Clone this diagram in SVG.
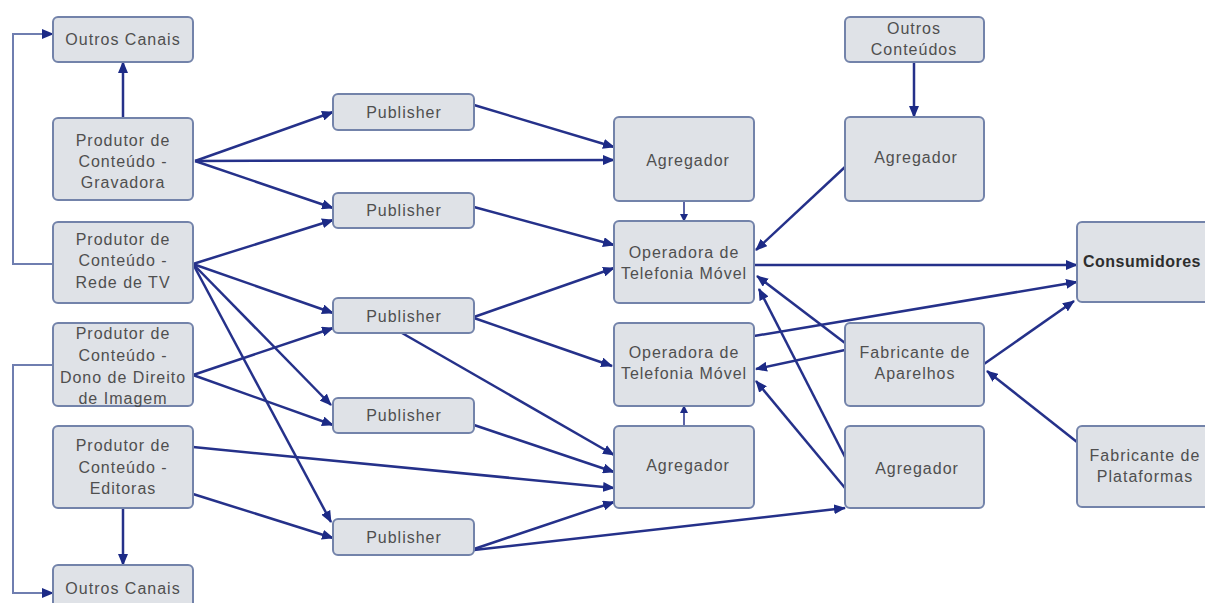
<svg xmlns="http://www.w3.org/2000/svg" width="1205" height="603" viewBox="0 0 1205 603">
  <style>
    .box { fill: #dfe2e7; stroke: #7383aa; stroke-width: 2; }
    .lbl { font-family: "Liberation Sans", Arial, sans-serif; font-size: 16px; fill: #4f4f4f; text-anchor: middle; letter-spacing: 1px; }
    .bold { font-weight: bold; fill: #2e2e2e; letter-spacing: 0.5px; }
    .edge { fill: none; stroke: #25318a; stroke-width: 2.5; marker-end: url(#ah); }
    .edge-s { fill: none; stroke: #25318a; stroke-width: 1.5; marker-end: url(#ahs); }
    .bracket { fill: none; stroke: #6f7eb0; stroke-width: 2; marker-end: url(#ah); }
  </style>
  <defs>
    <marker id="ah" viewBox="0 0 12 10" refX="11" refY="5" markerWidth="12" markerHeight="10" markerUnits="userSpaceOnUse" orient="auto">
      <path d="M0,0 L12,5 L0,10 z" fill="#1c2a86"/>
    </marker>
    <marker id="ahs" viewBox="0 0 8 8" refX="7" refY="4" markerWidth="8" markerHeight="8" markerUnits="userSpaceOnUse" orient="auto">
      <path d="M0,0 L8,4 L0,8 z" fill="#1c2a86"/>
    </marker>
  </defs>
  <rect width="1205" height="603" fill="#ffffff"/>

  <g id="connectors">
    <!-- side brackets to the "Outros Canais" boxes -->
    <path class="bracket" d="M53,264 H13 V34 H53"/>
    <path class="bracket" d="M53,365 H13 V593 H53"/>
    <!-- vertical links -->
    <path class="edge" d="M123,118 L123,62"/>
    <path class="edge" d="M123,508 L123,565"/>
    <path class="edge" d="M914,62 L914,117"/>
    <path class="edge-s" d="M684,201 L684,221"/>
    <path class="edge-s" d="M684,426 L684,406"/>
    <!-- Gravadora -->
    <path class="edge" d="M195,161 L333,112"/>
    <path class="edge" d="M195,161 L614,160"/>
    <path class="edge" d="M195,161 L333,208"/>
    <!-- Rede de TV -->
    <path class="edge" d="M193,264 L333,220"/>
    <path class="edge" d="M193,264 L333,313"/>
    <path class="edge" d="M193,264 L331,405"/>
    <path class="edge" d="M193,264 L331,522"/>
    <!-- Dono de Direito de Imagem -->
    <path class="edge" d="M193,375 L333,328"/>
    <path class="edge" d="M193,375 L333,425"/>
    <!-- Editoras -->
    <path class="edge" d="M193,447 L614,488"/>
    <path class="edge" d="M193,494 L333,538"/>
    <!-- Publishers -->
    <path class="edge" d="M474,105 L614,147"/>
    <path class="edge" d="M474,207 L614,245"/>
    <path class="edge" d="M474,317 L614,268"/>
    <path class="edge" d="M474,318 L612,366"/>
    <path class="edge" d="M402,333 L614,455"/>
    <path class="edge" d="M474,425 L614,472"/>
    <path class="edge" d="M474,549 L614,502"/>
    <path class="edge" d="M474,550 L845,508"/>
    <!-- right side -->
    <path class="edge" d="M845,167 L756,250"/>
    <path class="edge" d="M754,265 L1077,265"/>
    <path class="edge" d="M754,336 L1077,282"/>
    <path class="edge" d="M984,364 L1074,301"/>
    <path class="edge" d="M1077,442 L987,371"/>
    <path class="edge" d="M845,350 L756,369"/>
    <path class="edge" d="M845,343 L757,276"/>
    <path class="edge" d="M845,457 L759,289"/>
    <path class="edge" d="M845,488 L756,381"/>
  </g>

  <g id="outros-canais-top">
    <rect class="box" x="53" y="17" width="140" height="45" rx="5"/>
    <text class="lbl" x="123" y="45">Outros Canais</text>
  </g>
  <g id="produtor-gravadora">
    <rect class="box" x="53" y="118" width="140" height="82" rx="5"/>
    <text class="lbl" x="123"><tspan x="123" y="146">Produtor de</tspan><tspan x="123" y="167">Conteúdo -</tspan><tspan x="123" y="188">Gravadora</tspan></text>
  </g>
  <g id="produtor-rede-tv">
    <rect class="box" x="53" y="222" width="140" height="81" rx="5"/>
    <text class="lbl" x="123"><tspan x="123" y="245">Produtor de</tspan><tspan x="123" y="266">Conteúdo -</tspan><tspan x="123" y="288">Rede de TV</tspan></text>
  </g>
  <g id="produtor-dono-direito">
    <rect class="box" x="53" y="323" width="140" height="83" rx="5"/>
    <text class="lbl" x="123"><tspan x="123" y="339">Produtor de</tspan><tspan x="123" y="361">Conteúdo -</tspan><tspan x="123" y="383">Dono de Direito</tspan><tspan x="123" y="404">de Imagem</tspan></text>
  </g>
  <g id="produtor-editoras">
    <rect class="box" x="53" y="426" width="140" height="82" rx="5"/>
    <text class="lbl" x="123"><tspan x="123" y="451">Produtor de</tspan><tspan x="123" y="473">Conteúdo -</tspan><tspan x="123" y="494">Editoras</tspan></text>
  </g>
  <g id="outros-canais-bottom">
    <rect class="box" x="53" y="565" width="140" height="60" rx="5"/>
    <text class="lbl" x="123" y="594">Outros Canais</text>
  </g>

  <g id="publisher-1">
    <rect class="box" x="333" y="94" width="141" height="36" rx="5"/>
    <text class="lbl" x="404" y="118">Publisher</text>
  </g>
  <g id="publisher-2">
    <rect class="box" x="333" y="193" width="141" height="35" rx="5"/>
    <text class="lbl" x="404" y="216">Publisher</text>
  </g>
  <g id="publisher-3">
    <rect class="box" x="333" y="298" width="141" height="35" rx="5"/>
    <text class="lbl" x="404" y="322">Publisher</text>
  </g>
  <g id="publisher-4">
    <rect class="box" x="333" y="398" width="141" height="35" rx="5"/>
    <text class="lbl" x="404" y="421">Publisher</text>
  </g>
  <g id="publisher-5">
    <rect class="box" x="333" y="519" width="141" height="36" rx="5"/>
    <text class="lbl" x="404" y="543">Publisher</text>
  </g>

  <g id="agregador-1">
    <rect class="box" x="614" y="117" width="140" height="84" rx="5"/>
    <text class="lbl" x="688" y="166">Agregador</text>
  </g>
  <g id="operadora-1">
    <rect class="box" x="614" y="221" width="140" height="82" rx="5"/>
    <text class="lbl" x="684"><tspan x="684" y="258">Operadora de</tspan><tspan x="684" y="279">Telefonia Móvel</tspan></text>
  </g>
  <g id="operadora-2">
    <rect class="box" x="614" y="323" width="140" height="83" rx="5"/>
    <text class="lbl" x="684"><tspan x="684" y="358">Operadora de</tspan><tspan x="684" y="379">Telefonia Móvel</tspan></text>
  </g>
  <g id="agregador-2">
    <rect class="box" x="614" y="426" width="140" height="82" rx="5"/>
    <text class="lbl" x="688" y="471">Agregador</text>
  </g>

  <g id="outros-conteudos">
    <rect class="box" x="845" y="17" width="139" height="45" rx="5"/>
    <text class="lbl" x="914"><tspan x="914" y="34">Outros</tspan><tspan x="914" y="55">Conteúdos</tspan></text>
  </g>
  <g id="agregador-3">
    <rect class="box" x="845" y="117" width="139" height="84" rx="5"/>
    <text class="lbl" x="916" y="163">Agregador</text>
  </g>
  <g id="fabricante-aparelhos">
    <rect class="box" x="845" y="323" width="139" height="83" rx="5"/>
    <text class="lbl" x="915"><tspan x="915" y="358">Fabricante de</tspan><tspan x="915" y="379">Aparelhos</tspan></text>
  </g>
  <g id="agregador-4">
    <rect class="box" x="845" y="426" width="139" height="82" rx="5"/>
    <text class="lbl" x="917" y="474">Agregador</text>
  </g>

  <g id="consumidores">
    <rect class="box" x="1077" y="222" width="140" height="80" rx="5"/>
    <text class="lbl bold" x="1142" y="267">Consumidores</text>
  </g>
  <g id="fabricante-plataformas">
    <rect class="box" x="1077" y="426" width="140" height="81" rx="5"/>
    <text class="lbl" x="1145"><tspan x="1145" y="461">Fabricante de</tspan><tspan x="1145" y="482">Plataformas</tspan></text>
  </g>
</svg>
